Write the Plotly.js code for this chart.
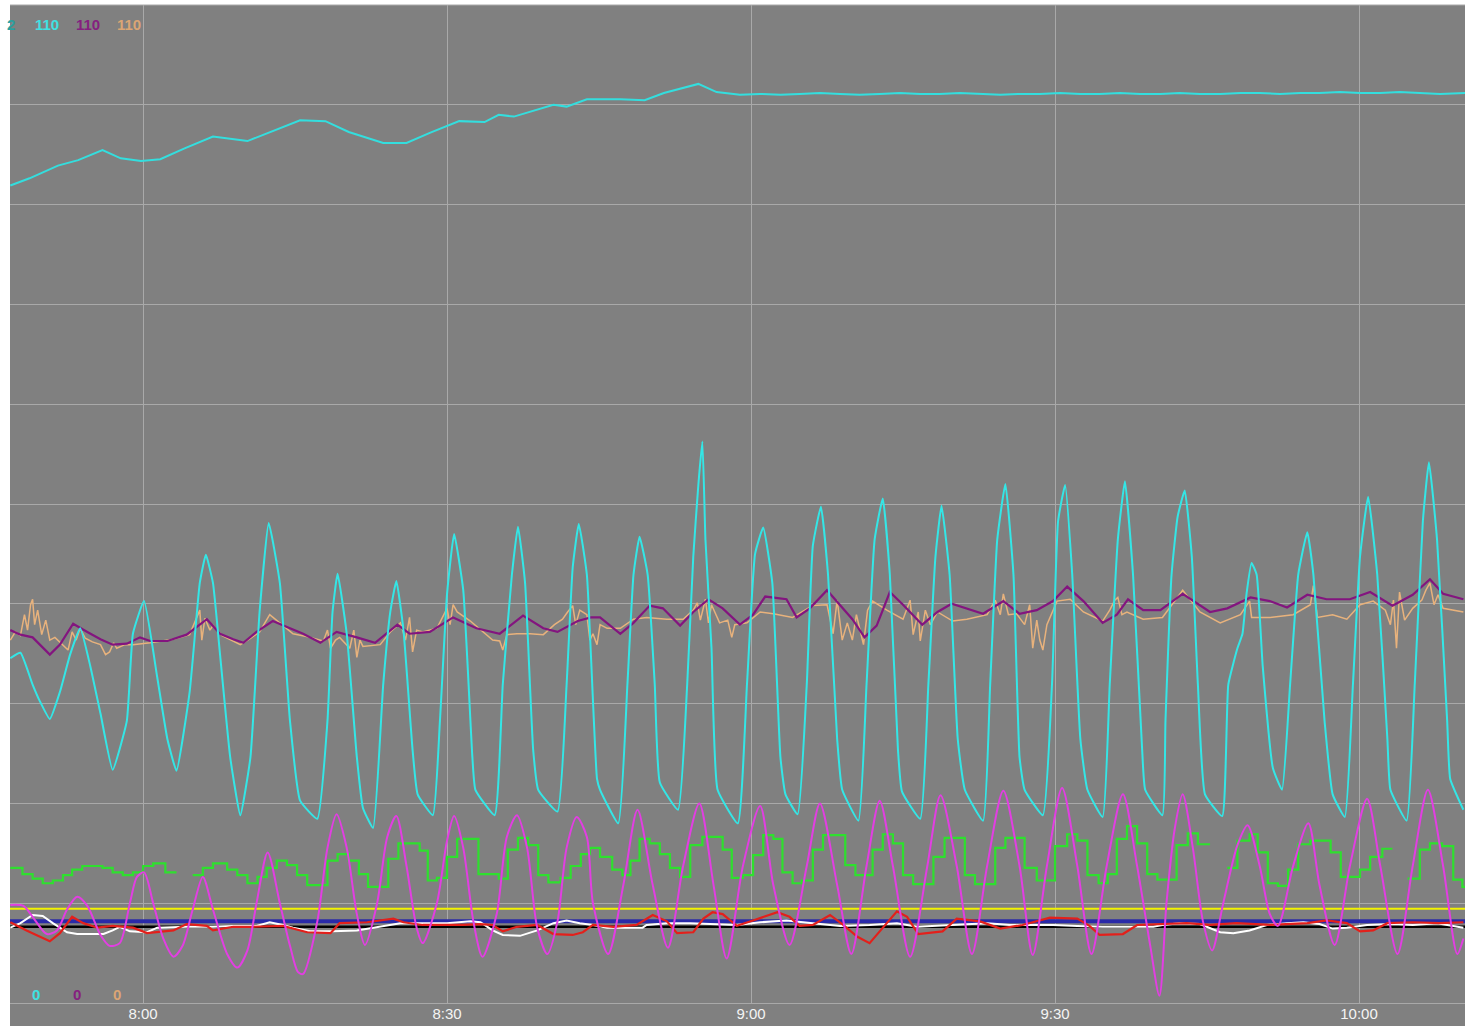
<!DOCTYPE html>
<html>
<head>
<meta charset="utf-8">
<script src="https://cdn.plot.ly/plotly-3.0.1.min.js"></script>
<style>
  html, body { margin: 0; padding: 0; background: #ffffff; }
  #chart { width: 1465px; height: 1026px; }
</style>
</head>
<body>
<div id="chart"></div>
<script>
// ---- Time axis (minutes after midnight) ----
const timeRange = [466.87, 610.46];
const tickTimes = [480, 510, 540, 570, 600];
const tickLabels = ['8:00', '8:30', '9:00', '9:30', '10:00'];

// ---- Pen scale labels ----
const scaleMaxLabels = ['2', '110', '110', '110'];
const scaleMinLabels = ['0', '0', '0'];

// ---- Upper cyan pen ----
const cyanTopTime = [466.9,468.8,471.6,473.6,476.0,477.8,479.8,481.7,484.1,486.9,490.3,493.0,495.5,498.0,500.3,503.7,506.0,508.3,511.2,513.7,515.1,516.6,520.5,521.8,523.8,527.1,529.5,531.4,534.8,536.6,538.9,540.9,542.9,544.8,546.8,548.8,550.7,552.7,554.7,556.7,558.6,560.6,562.6,564.6,566.5,568.5,570.5,572.5,574.4,576.4,578.4,580.4,582.3,584.3,586.3,588.3,590.2,592.2,594.2,596.1,598.1,600.1,602.1,604.0,606.0,608.0,610.5];
const cyanTopVal = [90.1,90.9,92.3,92.9,94.0,93.1,92.8,93.0,94.2,95.5,95.0,96.2,97.3,97.2,96.0,94.8,94.8,95.9,97.2,97.1,97.9,97.7,99.0,98.8,99.6,99.6,99.5,100.3,101.3,100.4,100.1,100.2,100.1,100.2,100.3,100.2,100.1,100.2,100.3,100.2,100.2,100.3,100.2,100.1,100.2,100.2,100.3,100.2,100.2,100.3,100.2,100.2,100.3,100.2,100.2,100.3,100.3,100.2,100.3,100.3,100.4,100.3,100.3,100.4,100.3,100.2,100.3];

// ---- Oscillating cyan pen ----
const cyanOscTime = [466.9,467.9,469.1,469.8,470.8,471.8,472.8,473.8,474.8,475.8,477.0,478.4,479.0,480.1,481.4,482.4,483.3,484.6,485.6,486.2,486.9,487.6,488.6,489.6,490.6,491.5,492.4,493.5,494.5,495.5,497.2,498.2,498.7,499.2,500.1,501.1,501.7,502.7,503.7,504.4,505.0,505.7,506.6,507.1,508.6,509.3,510.0,510.7,511.6,512.5,512.8,514.7,515.5,516.4,517.0,517.7,518.5,519.0,520.9,521.8,522.4,523.0,523.8,524.8,525.1,526.9,527.8,528.4,529.0,529.8,530.5,531.0,532.8,533.7,534.3,534.8,535.2,535.5,536.1,536.7,538.7,539.6,540.4,541.2,542.1,542.9,543.4,544.6,545.5,546.1,546.9,547.6,548.5,549.0,550.6,551.4,552.2,553.0,553.7,554.5,554.9,556.7,557.5,558.2,558.8,559.6,560.4,561.1,562.9,563.6,564.3,565.1,565.9,566.5,567.0,568.8,569.7,570.3,571.0,571.7,572.5,573.2,574.7,575.4,576.2,576.9,577.7,578.6,578.9,580.6,580.9,581.5,582.1,582.8,583.5,584.1,584.8,586.5,587.1,588.0,588.5,588.9,589.4,589.9,590.5,591.5,592.4,593.2,594.0,594.9,595.5,596.6,597.4,598.6,599.4,600.1,600.9,601.8,602.8,603.1,604.7,605.5,606.3,606.9,607.7,608.7,609.0,610.3];
const cyanOscVal = [38.0,38.6,35.1,33.3,31.3,34.3,38.4,41.3,37.1,31.9,25.7,31.1,40.7,44.3,35.9,29.1,25.6,34.3,46.3,49.4,46.3,38.4,27.1,20.7,27.1,43.1,52.9,46.3,31.1,22.3,20.3,31.1,43.1,47.3,40.7,27.1,21.5,19.3,35.1,43.1,46.5,41.1,27.9,23.0,20.7,31.1,45.1,51.7,45.5,27.1,23.5,20.7,35.1,47.2,52.5,46.3,27.9,23.5,21.1,35.1,48.0,52.8,47.2,24.7,23.5,19.8,35.1,47.2,51.4,47.2,35.1,24.3,21.3,35.1,49.2,57.1,61.9,51.1,39.1,23.5,19.8,35.1,49.5,52.4,46.3,27.1,23.0,20.8,35.1,50.4,54.7,47.2,29.1,23.5,20.1,35.1,51.1,55.6,47.2,27.9,23.3,20.3,35.1,49.2,54.8,47.2,29.1,23.5,20.1,35.1,51.1,57.2,47.2,27.1,23.5,20.7,35.1,53.1,57.1,47.2,29.1,23.5,20.5,35.1,51.1,57.5,47.2,27.9,23.5,20.7,31.1,47.2,53.6,56.5,49.2,35.1,23.0,20.6,35.1,39.1,40.7,45.1,48.5,47.2,37.1,25.9,23.5,35.1,47.2,51.9,47.2,31.1,23.0,20.5,35.1,49.2,55.8,47.2,29.1,23.5,20.1,35.1,53.1,59.6,51.1,31.1,24.7,21.3];

// ---- Purple pen ----
const purpleTime = [466.9,467.9,469.1,470.8,471.8,473.1,474.5,475.8,477.0,478.4,479.7,480.7,482.4,484.3,486.3,487.6,488.9,489.9,491.2,492.8,494.5,495.8,497.5,499.1,501.1,502.9,505.1,506.3,508.3,510.6,512.9,515.2,517.5,519.5,520.9,522.9,524.2,525.1,527.1,528.4,530.0,531.3,533.0,534.3,535.8,537.2,538.9,540.2,541.4,543.5,544.5,545.8,547.5,548.8,550.0,551.2,552.4,553.7,555.0,556.9,558.4,559.8,561.3,562.9,564.9,566.5,568.2,569.8,571.2,572.8,574.7,576.1,577.2,578.7,580.4,582.6,585.3,587.0,589.3,591.2,592.9,594.9,596.8,599.1,601.1,603.3,605.3,607.0,608.3,610.3];
const purpleVal = [41.1,40.6,40.3,38.4,39.5,41.8,40.9,40.1,39.5,39.6,40.3,39.9,39.9,40.6,42.3,40.7,40.1,39.7,40.9,42.1,41.3,40.7,39.7,40.9,40.3,39.7,41.7,40.7,40.9,42.5,41.3,40.7,42.7,41.3,40.9,42.1,42.5,42.5,40.7,41.9,43.8,43.5,41.6,43.1,44.5,43.5,41.7,42.8,44.8,44.5,42.5,43.5,45.5,43.9,42.3,40.3,41.6,45.3,43.9,41.7,43.1,44.0,43.5,42.9,44.3,42.9,43.3,44.3,45.9,44.3,41.9,42.8,44.5,43.3,43.3,45.1,43.1,43.5,44.7,44.3,43.6,45.0,44.5,44.5,45.3,43.8,45.0,46.7,45.1,44.5];

// ---- Tan pen ----
const tanTime = [466.9,467.4,467.9,468.3,468.6,468.9,469.1,469.3,469.6,470.0,470.4,470.8,471.3,472.0,472.6,473.0,473.4,473.8,474.3,475.0,475.8,476.3,476.7,477.1,477.4,478.2,479.0,480.7,483.0,484.6,485.2,485.6,485.8,486.1,486.6,486.9,487.8,488.9,489.6,490.6,491.5,492.5,493.5,494.8,496.5,497.8,498.2,498.5,499.0,499.4,500.4,500.8,501.1,501.4,501.7,503.4,504.4,505.4,505.9,506.3,506.6,507.0,507.6,509.0,510.0,510.3,510.6,511.0,512.3,513.5,514.5,515.2,515.5,515.9,516.9,518.2,519.5,520.6,521.4,521.9,522.4,522.7,523.1,523.8,524.1,524.4,524.8,525.1,525.8,527.1,528.4,529.7,531.7,533.3,534.3,534.7,535.0,535.5,535.8,536.1,536.9,537.7,538.1,538.4,539.6,540.9,542.2,544.1,546.1,547.5,548.1,548.5,549.0,549.5,550.0,550.4,551.1,551.5,552.0,553.4,555.0,555.7,556.0,556.5,556.7,557.2,557.7,558.4,559.9,561.3,563.3,564.1,564.6,564.9,565.4,566.2,567.0,567.5,567.8,568.2,568.5,568.8,569.2,570.2,571.5,572.8,574.7,575.4,575.9,576.2,576.6,577.1,578.7,580.6,582.6,584.3,586.3,588.3,589.2,589.4,591.2,593.5,595.2,595.5,595.9,597.4,598.8,600.1,601.4,602.6,603.1,603.4,603.7,604.0,604.5,605.3,606.2,606.6,607.0,607.4,607.8,608.3,610.3];
const tanVal = [40.0,40.9,40.5,42.8,41.1,43.9,44.5,41.7,43.3,40.6,42.2,40.0,40.3,39.5,38.9,40.9,40.0,41.3,40.2,39.8,39.5,38.4,38.7,39.7,39.1,39.5,39.5,39.7,40.1,40.6,42.2,43.3,40.0,42.4,41.1,41.6,40.5,39.9,39.5,40.2,40.9,42.8,41.9,40.7,40.3,39.9,41.1,39.1,40.0,40.3,39.1,41.1,38.1,40.0,39.3,39.5,40.9,41.9,40.0,42.5,38.7,41.1,40.9,41.3,43.5,41.7,43.9,43.1,42.1,40.9,40.0,39.9,38.9,40.6,40.7,40.7,40.6,41.7,42.3,43.1,43.8,41.7,43.3,42.8,40.0,40.7,39.5,41.7,41.3,41.3,42.3,42.5,42.3,42.3,43.3,44.1,42.2,44.5,41.9,43.9,41.9,42.2,40.3,41.7,41.9,43.1,42.9,42.5,43.8,43.9,40.7,44.4,40.0,41.9,40.0,42.8,39.5,43.3,44.3,43.3,42.3,44.4,40.6,43.1,39.9,43.3,41.7,43.1,42.1,42.3,42.8,44.4,42.8,45.1,42.8,42.9,41.7,43.9,39.1,42.2,40.0,38.9,41.7,44.3,44.5,43.1,42.1,43.3,44.4,44.7,42.8,43.1,42.3,42.5,45.5,43.1,41.9,42.8,44.3,42.5,42.5,42.8,43.9,46.0,42.5,42.8,42.3,43.9,44.3,43.3,41.7,44.4,39.1,45.3,42.2,43.5,44.4,45.5,46.3,43.9,45.0,43.5,43.1];

// ---- Magenta pen ----
const magentaTime = [466.9,468.2,469.1,470.5,471.5,472.5,473.5,474.5,475.8,476.7,477.7,478.7,479.4,480.1,481.0,482.0,483.0,483.9,484.9,485.9,486.9,488.3,489.3,490.3,491.2,492.3,493.5,494.5,495.3,495.8,497.2,498.2,499.1,500.1,501.1,501.9,503.1,504.1,505.0,506.0,507.0,507.6,509.0,510.0,510.7,511.6,512.6,513.5,514.9,515.9,516.9,517.9,518.9,519.9,520.9,521.8,522.8,523.8,524.4,525.9,527.4,528.8,530.3,531.8,533.3,534.9,536.3,537.6,539.2,540.9,542.2,543.8,545.5,546.8,548.5,549.9,551.4,552.7,554.0,555.7,557.4,558.7,560.3,561.8,563.3,564.9,566.5,567.8,569.2,570.7,572.2,573.6,575.1,576.7,578.1,579.4,580.3,581.0,581.8,582.6,583.6,584.6,585.5,586.6,588.0,589.0,590.2,591.2,592.0,593.5,595.0,596.1,597.6,599.1,600.8,602.1,603.8,605.3,606.8,608.3,609.7,610.3];
const magentaVal = [10.8,10.7,9.5,7.6,8.0,10.3,11.7,10.7,7.5,6.3,6.6,11.0,13.9,14.4,11.0,7.1,5.1,6.3,10.3,13.9,10.3,5.4,3.9,5.8,11.0,16.6,11.0,6.3,3.4,3.2,9.0,17.1,20.8,17.1,9.8,6.4,11.0,18.3,20.6,15.1,8.3,6.6,11.0,17.9,20.6,17.1,9.0,5.1,9.8,18.3,20.7,17.1,8.3,5.4,9.0,17.1,20.5,18.3,11.0,5.4,13.0,21.3,13.0,6.1,15.1,22.0,13.0,4.9,15.1,21.7,13.0,6.4,15.1,22.0,13.0,5.4,15.1,22.3,15.1,5.1,15.1,22.9,15.1,5.4,15.1,23.4,15.1,5.3,15.1,23.7,15.1,5.4,15.1,23.0,15.1,6.3,0.8,11.0,19.1,23.0,17.1,9.0,5.8,11.0,17.4,19.6,15.1,9.8,8.5,15.1,19.8,13.0,6.4,15.1,22.5,15.1,5.4,15.1,23.5,15.1,5.4,7.1];

// ---- Green step pen (null = gap) ----
const greenTime = [466.9,468.1,469.1,470.1,471.1,472.1,473.0,474.0,476.0,477.0,478.0,479.0,480.0,481.0,482.2,483.3,484.1,484.9,485.9,486.9,488.3,489.3,490.3,491.3,492.2,493.2,494.2,495.2,496.2,498.2,499.2,500.3,501.3,502.2,504.2,505.2,507.3,508.1,509.0,510.0,511.0,513.1,515.1,516.0,517.0,518.0,519.0,520.0,521.2,522.2,523.2,524.1,525.1,526.3,527.3,528.1,529.0,530.0,531.0,532.0,533.0,534.0,535.2,537.2,538.1,539.2,540.2,541.2,542.2,543.1,544.1,545.0,546.1,547.1,549.3,550.3,552.0,553.0,554.0,555.0,556.0,558.0,559.1,561.1,562.1,564.1,565.1,567.0,568.2,570.0,571.2,572.2,573.2,574.3,575.2,576.1,577.1,578.1,579.1,580.1,582.0,583.1,584.1,585.3,586.2,587.0,588.0,589.2,590.0,591.0,592.0,593.0,594.0,595.2,597.2,598.2,600.1,601.1,602.3,603.3,604.0,604.8,606.0,607.0,608.2,609.3,610.2,610.5];
const greenVal = [14.9,14.2,13.7,13.2,13.5,14.1,14.7,15.1,14.9,14.4,14.1,14.4,15.1,15.4,14.4,14.4,null,14.1,14.9,15.4,14.7,14.1,13.2,13.9,14.9,15.7,15.2,14.1,13.0,15.7,16.4,15.7,14.2,12.8,15.9,17.6,16.8,13.5,13.8,16.1,18.1,14.2,13.7,16.9,18.2,17.4,14.1,13.3,13.8,15.1,16.4,17.1,16.1,14.7,14.1,15.7,18.1,17.6,16.4,14.9,13.9,17.4,18.3,16.9,13.8,14.1,16.3,18.5,18.1,14.4,13.2,13.5,16.9,18.5,15.2,14.1,16.9,18.6,17.6,14.1,13.1,16.1,18.2,14.1,13.1,17.1,18.2,14.9,13.5,17.3,18.6,17.9,14.1,13.2,14.2,18.1,19.5,17.6,14.2,13.6,17.4,18.7,17.5,17.5,null,14.9,17.9,18.6,16.6,13.2,12.9,14.7,17.5,17.9,16.6,13.9,14.7,16.1,17.0,17.0,null,13.7,16.9,17.6,17.3,13.6,12.8,12.8];

// ---- White pen ----
const whiteTime = [466.9,467.9,469.1,470.1,471.1,472.5,473.5,476.1,477.0,477.7,478.7,480.4,481.4,484.3,486.9,488.9,491.2,492.5,493.8,494.8,496.5,498.7,501.1,503.1,505.4,507.6,510.0,512.3,513.3,514.5,515.5,517.2,518.9,520.5,521.8,523.1,524.4,525.8,529.3,529.7,531.7,534.0,536.2,538.6,540.9,543.5,546.1,548.8,551.7,554.4,556.4,558.4,560.9,563.3,565.6,569.8,572.2,574.7,579.7,580.6,582.3,584.3,586.3,587.6,589.2,590.9,592.9,594.5,596.1,597.4,598.8,600.8,603.4,605.3,607.7,610.3];
const whiteVal = [8.3,8.8,9.7,9.6,8.8,7.8,7.6,7.6,8.0,8.4,7.9,7.8,8.3,8.4,8.4,8.5,8.5,8.9,8.6,8.3,7.9,7.9,8.0,8.4,8.8,8.8,8.8,9.0,8.9,8.0,7.5,7.4,8.0,8.8,9.1,8.8,8.6,8.3,8.3,8.6,8.8,8.8,8.7,8.6,8.9,9.1,8.8,8.5,8.6,8.8,8.4,8.5,8.7,8.8,8.6,8.6,8.5,8.4,8.4,8.6,8.8,8.7,7.8,7.7,8.0,8.6,8.8,8.9,8.7,8.2,8.3,8.6,8.7,8.6,8.8,8.3];

// ---- Red pen ----
const redTime = [466.9,468.5,470.8,471.8,473.0,474.1,475.5,477.0,479.0,480.4,483.0,484.3,486.3,486.9,488.9,490.8,493.8,496.2,498.5,499.4,502.1,504.7,505.7,507.6,511.6,513.3,514.5,515.5,516.9,518.9,520.5,522.4,523.4,524.4,526.4,528.7,530.3,531.7,532.7,534.3,535.3,536.2,537.2,538.6,540.2,542.6,543.8,544.8,546.1,547.8,549.1,550.5,551.7,553.0,554.4,555.4,556.5,558.9,560.3,562.6,564.6,566.8,569.5,572.2,573.4,574.4,576.7,578.1,580.1,583.0,585.3,587.9,591.2,594.9,596.8,598.8,600.1,601.4,602.8,605.3,607.9,610.3];
const redVal = [8.9,8.0,6.8,7.7,9.5,8.8,8.3,8.5,8.3,7.7,8.0,8.7,8.5,8.0,8.4,8.4,8.5,7.8,7.7,8.8,8.9,9.3,8.9,8.6,8.6,8.7,8.6,7.9,8.4,8.6,7.6,7.5,7.8,8.6,8.4,8.6,9.7,9.0,7.7,7.8,9.3,10.0,9.8,8.5,9.1,10.0,9.5,8.5,8.6,9.7,8.6,7.3,6.6,8.3,10.1,9.5,7.6,7.9,9.3,9.0,8.2,8.6,9.4,9.3,8.5,7.5,7.6,8.6,8.7,8.8,8.6,8.8,8.6,8.8,9.1,8.8,7.9,8.0,8.8,8.9,8.8,8.9];

// ---- Constant pens ----
const flatTime = [466.87, 610.46];
const yellowVal = [10.4, 10.4];
const blueVal = [9.0, 9.0];
const blackVal = [8.4, 8.4];

// ---- Build traces ----
function pen(x, y, color, width, extra) {
  return Object.assign({
    type: 'scatter', mode: 'lines', x: x, y: y,
    line: { color: color, width: width },
    hoverinfo: 'skip', showlegend: false, connectgaps: false
  }, extra || {});
}

const traces = [
  pen(flatTime, yellowVal, '#f2f200', 2),
  pen(flatTime, blackVal, '#000000', 2.5),
  pen(flatTime, blueVal, '#2a2aa8', 4),
  pen(whiteTime, whiteVal, '#ffffff', 2),
  pen(redTime, redVal, '#e3201b', 2.2),
  pen(greenTime, greenVal, '#2ee02e', 2.2, { line: { color: '#2ee02e', width: 2.2, shape: 'hv' } }),
  pen(tanTime, tanVal, '#e8b27c', 1.5),
  pen(purpleTime, purpleVal, '#83157f', 2.2),
  pen(magentaTime, magentaVal, '#e23ee2', 2, { line: { color: '#e23ee2', width: 2, shape: 'spline', smoothing: 0.8 } }),
  pen(cyanTopTime, cyanTopVal, '#33dede', 2),
  pen(cyanOscTime, cyanOscVal, '#33e6e6', 2, { line: { color: '#33e6e6', width: 2, shape: 'spline', smoothing: 0.4 } })
];

// ---- Scale label annotations ----
const topColors = ['#2b9f9f', '#3ee2e2', '#85207f', '#dba574'];
const topX = [0.0050, 0.0155, 0.0437, 0.0719];
const topAnchor = ['right', 'left', 'left', 'left'];
const botColors = ['#3ee2e2', '#85207f', '#dba574'];
const botX = [0.0182, 0.0460, 0.0735];

const labelFont = 'Liberation Sans, Arial, sans-serif';
const annotations = [];
scaleMaxLabels.forEach((t, i) => annotations.push({
  xref: 'paper', yref: 'paper', x: topX[i], y: 0.9805, xanchor: topAnchor[i], yanchor: 'middle',
  text: t, showarrow: false, font: { family: labelFont, size: 15, color: topColors[i], weight: 'bold' }
}));
scaleMinLabels.forEach((t, i) => annotations.push({
  xref: 'paper', yref: 'paper', x: botX[i], y: 0.0085, xanchor: 'center', yanchor: 'middle',
  text: t, showarrow: false, font: { family: labelFont, size: 15, color: botColors[i], weight: 'bold' }
}));

const layout = {
  width: 1465, height: 1026,
  margin: { l: 10, r: 0, t: 5, b: 23, pad: 0 },
  paper_bgcolor: '#ffffff',
  plot_bgcolor: '#808080',
  showlegend: false,
  xaxis: {
    range: timeRange, tickvals: tickTimes, ticktext: tickLabels,
    showgrid: true, gridcolor: '#a9a9a9', gridwidth: 1,
    zeroline: false, showline: true, linecolor: '#a9a9a9', linewidth: 1,
    ticks: '', ticklabelstandoff: -3,
    tickfont: { family: labelFont, size: 15, color: '#f4f4f4' },
    fixedrange: true
  },
  yaxis: {
    range: [0, 110], tick0: 0, dtick: 11,
    showgrid: true, gridcolor: '#a9a9a9', gridwidth: 1,
    zeroline: false, showticklabels: false, ticks: '', showline: false,
    fixedrange: true
  },
  shapes: [
    { type: 'rect', xref: 'paper', yref: 'paper', x0: 0, x1: 1, y0: -0.024, y1: 0,
      fillcolor: '#808080', line: { width: 0 }, layer: 'below' },
    { type: 'line', xref: 'paper', yref: 'paper', x0: 0, x1: 1, y0: 1, y1: 1,
      line: { color: '#a9a9a9', width: 1 }, layer: 'below' }
  ],
  annotations: annotations
};

Plotly.newPlot('chart', traces, layout, { displayModeBar: false, staticPlot: true });
</script>
</body>
</html>
